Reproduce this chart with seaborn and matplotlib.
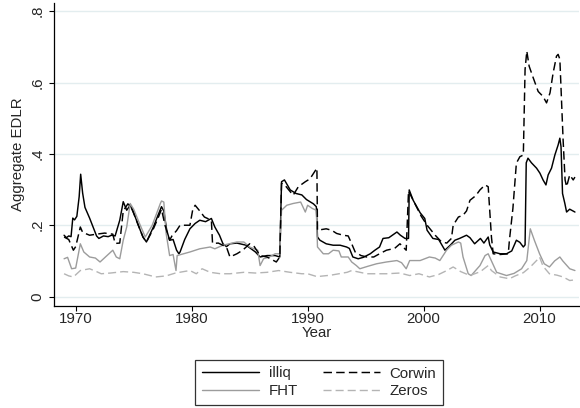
import matplotlib
matplotlib.use("Agg")
import matplotlib.pyplot as plt
import seaborn as sns
import pandas as pd

# ---------------- data ----------------
illiq_year = [1969.0, 1969.2, 1969.4, 1969.6, 1969.75, 1969.9, 1970.1, 1970.3, 1970.43, 1970.6,
              1970.8, 1971.0, 1971.2, 1971.5, 1971.8, 1972.0, 1972.4, 1972.8, 1973.1, 1973.4,
              1973.8, 1974.1, 1974.4, 1974.7, 1975.0, 1975.4, 1975.8, 1976.1, 1976.7, 1977.1,
              1977.4, 1977.6, 1977.85, 1978.1, 1978.4, 1978.7, 1978.9, 1979.0, 1979.4, 1979.85,
              1980.3, 1980.7, 1981.2, 1981.7, 1982.0, 1982.4, 1982.7, 1983.0, 1983.3, 1983.9,
              1984.7, 1985.5, 1985.9, 1986.5, 1987.2, 1987.6, 1987.75, 1988.0, 1988.5, 1989.0,
              1989.5, 1989.9, 1990.5, 1990.75, 1990.85, 1991.06, 1991.6, 1992.2, 1992.8, 1993.36,
              1993.6, 1993.9, 1994.36, 1994.8, 1995.4, 1995.8, 1996.2, 1996.5, 1997.0, 1997.7,
              1998.0, 1998.4, 1998.7, 1998.76, 1999.1, 1999.7, 2000.1, 2000.3, 2000.8, 2001.3,
              2001.84, 2002.3, 2002.7, 2003.1, 2003.7, 2004.0, 2004.4, 2004.9, 2005.2, 2005.57,
              2005.7, 2006.0, 2006.6, 2007.15, 2007.6, 2008.0, 2008.3, 2008.6, 2008.75, 2008.85,
              2009.0, 2009.3, 2009.74, 2010.03, 2010.3, 2010.55, 2010.74, 2011.03, 2011.32, 2011.6,
              2011.75, 2011.85, 2011.98, 2012.18, 2012.33, 2012.6, 2013.05]
illiq_val = [0.172, 0.165, 0.170, 0.168, 0.220, 0.215, 0.225, 0.280, 0.343, 0.290,
             0.250, 0.235, 0.220, 0.195, 0.170, 0.163, 0.170, 0.168, 0.172, 0.170,
             0.214, 0.266, 0.242, 0.256, 0.235, 0.200, 0.167, 0.153, 0.195, 0.228,
             0.252, 0.240, 0.186, 0.158, 0.160, 0.130, 0.120, 0.125, 0.160, 0.190,
             0.205, 0.214, 0.210, 0.219, 0.195, 0.172, 0.148, 0.140, 0.148, 0.150,
             0.144, 0.125, 0.111, 0.115, 0.115, 0.111, 0.322, 0.327, 0.299, 0.289,
             0.285, 0.272, 0.260, 0.252, 0.167, 0.158, 0.148, 0.144, 0.144, 0.139,
             0.135, 0.111, 0.106, 0.110, 0.120, 0.130, 0.139, 0.163, 0.165, 0.181,
             0.172, 0.163, 0.163, 0.299, 0.270, 0.235, 0.219, 0.186, 0.163, 0.160,
             0.130, 0.144, 0.158, 0.163, 0.172, 0.165, 0.148, 0.163, 0.150, 0.167,
             0.145, 0.125, 0.120, 0.120, 0.128, 0.158, 0.152, 0.139, 0.145, 0.375,
             0.388, 0.375, 0.360, 0.346, 0.327, 0.313, 0.341, 0.360, 0.397, 0.425,
             0.444, 0.420, 0.289, 0.261, 0.237, 0.245, 0.237]

corwin_year = [1969.0, 1969.4, 1969.8, 1970.0, 1970.4, 1970.6, 1971.2, 1971.8, 1972.5, 1973.2,
               1973.4, 1973.8, 1974.1, 1974.5, 1974.8, 1975.4, 1975.8, 1976.1, 1976.7, 1977.1,
               1977.4, 1977.7, 1978.1, 1978.3, 1978.7, 1979.0, 1979.5, 1979.85, 1980.1, 1980.3,
               1980.7, 1981.1, 1981.7, 1981.8, 1982.3, 1983.0, 1983.3, 1983.9, 1984.4, 1985.0,
               1985.4, 1985.9, 1986.5, 1987.3, 1987.6, 1987.75, 1988.1, 1988.75, 1989.2, 1989.8,
               1990.2, 1990.7, 1990.8, 1990.85, 1991.6, 1992.07, 1992.5, 1993.07, 1993.5, 1993.8,
               1994.1, 1994.6, 1995.1, 1995.7, 1996.2, 1996.8, 1997.5, 1997.96, 1998.2, 1998.5,
               1998.7, 1999.1, 1999.8, 2000.3, 2001.0, 2001.55, 2002.0, 2002.4, 2002.55, 2003.0,
               2003.4, 2003.7, 2004.0, 2004.5, 2004.86, 2005.3, 2005.57, 2005.85, 2006.0, 2006.6,
               2007.3, 2007.4, 2007.7, 2008.0, 2008.3, 2008.6, 2008.75, 2008.9, 2009.1, 2009.4,
               2009.88, 2010.3, 2010.6, 2010.9, 2011.17, 2011.46, 2011.6, 2011.75, 2012.03, 2012.2,
               2012.33, 2012.6, 2012.9, 2013.05]
corwin_val = [0.167, 0.160, 0.130, 0.140, 0.195, 0.180, 0.172, 0.175, 0.178, 0.175,
              0.149, 0.150, 0.240, 0.260, 0.250, 0.200, 0.167, 0.153, 0.190, 0.220,
              0.245, 0.200, 0.158, 0.170, 0.185, 0.200, 0.200, 0.200, 0.245, 0.256,
              0.240, 0.223, 0.214, 0.149, 0.150, 0.139, 0.111, 0.120, 0.130, 0.148,
              0.140, 0.115, 0.111, 0.097, 0.111, 0.318, 0.310, 0.284, 0.308, 0.322,
              0.330, 0.355, 0.360, 0.186, 0.190, 0.186, 0.177, 0.172, 0.170, 0.148,
              0.125, 0.115, 0.111, 0.111, 0.120, 0.130, 0.135, 0.148, 0.140, 0.130,
              0.296, 0.270, 0.225, 0.200, 0.172, 0.153, 0.150, 0.163, 0.200, 0.223,
              0.228, 0.240, 0.270, 0.283, 0.299, 0.313, 0.308, 0.167, 0.120, 0.118,
              0.120, 0.158, 0.247, 0.374, 0.392, 0.397, 0.637, 0.688, 0.646, 0.618,
              0.575, 0.561, 0.543, 0.571, 0.627, 0.674, 0.679, 0.665, 0.439, 0.327,
              0.308, 0.341, 0.327, 0.335]

fht_year = [1969.0, 1969.3, 1969.65, 1970.0, 1970.4, 1970.7, 1971.2, 1971.7, 1972.1, 1972.7,
            1973.2, 1973.5, 1973.8, 1974.1, 1974.4, 1974.7, 1975.0, 1975.5, 1976.0, 1976.6,
            1977.3, 1977.4, 1977.6, 1977.8, 1978.1, 1978.4, 1978.65, 1978.75, 1979.3, 1979.85,
            1980.7, 1981.6, 1982.0, 1982.7, 1983.9, 1984.5, 1985.0, 1985.7, 1985.9, 1986.2,
            1986.7, 1987.2, 1987.6, 1987.75, 1988.2, 1988.75, 1989.4, 1989.8, 1990.0, 1990.4,
            1990.75, 1990.85, 1991.35, 1991.8, 1992.2, 1992.7, 1992.9, 1993.5, 1993.8, 1994.2,
            1994.5, 1995.2, 1995.95, 1996.8, 1997.7, 1998.1, 1998.5, 1998.8, 1999.7, 2000.5,
            2001.0, 2001.4, 2001.98, 2002.4, 2003.0, 2003.2, 2003.4, 2003.85, 2004.1, 2004.4,
            2004.86, 2005.3, 2005.57, 2005.85, 2006.3, 2007.15, 2007.8, 2008.45, 2008.9, 2009.2,
            2009.55, 2010.0, 2010.4, 2010.85, 2011.3, 2011.75, 2012.0, 2012.6, 2013.05]
fht_val = [0.106, 0.110, 0.078, 0.080, 0.148, 0.125, 0.111, 0.108, 0.097, 0.115,
           0.130, 0.111, 0.106, 0.158, 0.195, 0.261, 0.245, 0.205, 0.167, 0.200,
           0.261, 0.268, 0.265, 0.177, 0.115, 0.118, 0.073, 0.115, 0.120, 0.125,
           0.134, 0.139, 0.134, 0.144, 0.153, 0.153, 0.139, 0.130, 0.087, 0.106,
           0.111, 0.120, 0.120, 0.242, 0.256, 0.261, 0.265, 0.237, 0.256, 0.247,
           0.242, 0.139, 0.120, 0.120, 0.130, 0.128, 0.111, 0.111, 0.097, 0.087,
           0.078, 0.085, 0.092, 0.097, 0.101, 0.095, 0.078, 0.101, 0.101, 0.111,
           0.108, 0.101, 0.130, 0.144, 0.153, 0.150, 0.111, 0.064, 0.059, 0.070,
           0.087, 0.115, 0.120, 0.100, 0.068, 0.059, 0.065, 0.078, 0.101, 0.190,
           0.158, 0.120, 0.092, 0.083, 0.100, 0.111, 0.100, 0.078, 0.073]

zeros_year = [1969.0, 1969.4, 1969.8, 1970.4, 1971.2, 1971.8, 1972.2, 1973.0, 1974.1, 1975.0,
              1975.8, 1976.9, 1977.8, 1978.6, 1979.3, 1979.85, 1980.4, 1980.9, 1981.6, 1982.5,
              1983.3, 1984.5, 1985.5, 1986.5, 1987.5, 1988.5, 1989.5, 1990.0, 1990.8, 1992.0,
              1993.4, 1993.8, 1995.1, 1996.8, 1997.96, 1998.8, 1999.6, 2000.5, 2001.3, 2002.0,
              2002.55, 2003.2, 2004.0, 2004.9, 2005.57, 2005.85, 2006.6, 2007.4, 2007.9, 2008.6,
              2009.2, 2009.74, 2010.0, 2010.3, 2010.85, 2011.5, 2012.03, 2012.6, 2013.05]
zeros_val = [0.064, 0.058, 0.055, 0.073, 0.078, 0.070, 0.064, 0.066, 0.070, 0.068,
             0.064, 0.055, 0.058, 0.066, 0.070, 0.073, 0.064, 0.078, 0.068, 0.064,
             0.064, 0.068, 0.066, 0.068, 0.073, 0.068, 0.064, 0.064, 0.056, 0.060,
             0.068, 0.073, 0.064, 0.064, 0.066, 0.059, 0.064, 0.055, 0.062, 0.073,
             0.083, 0.070, 0.059, 0.070, 0.087, 0.073, 0.055, 0.050, 0.058, 0.067,
             0.083, 0.101, 0.111, 0.085, 0.064, 0.060, 0.055, 0.045, 0.047]

x_ticks = [1970, 1980, 1990, 2000, 2010]
y_ticks = [0, 0.2, 0.4, 0.6, 0.8]
y_tick_labels = ["0", ".2", ".4", ".6", ".8"]
x_title = "Year"
y_title = "Aggregate EDLR"

# ---------------- styling ----------------
sns.set_theme(style="white")
plt.rcParams["font.family"] = ["Liberation Sans", "DejaVu Sans"]
FS = 10.8

fig = plt.figure(figsize=(5.8, 4.08), dpi=100)
W, H = 580.0, 408.0
ax = fig.add_axes([54 / W, 1 - 305.5 / H, (579 - 54) / W, (305.5 - 3) / H])

for yv in y_ticks:
    ax.axhline(yv, color="#e3edef", lw=1.0, zorder=0)

series = [
    ("illiq", illiq_year, illiq_val, "black", None, 1.05),
    ("FHT", fht_year, fht_val, "#9c9c9c", None, 1.0),
    ("Corwin", corwin_year, corwin_val, "black", (5.8, 2.9), 1.05),
    ("Zeros", zeros_year, zeros_val, "#b4b4b4", (5.8, 2.9), 1.0),
]
handles = {}
for name, xs, ys, col, dash, lw in series:
    df = pd.DataFrame({"Year": xs, "v": ys})
    sns.lineplot(data=df, x="Year", y="v", ax=ax, color=col, lw=lw,
                 estimator=None, sort=True, label=name)
    line = ax.get_lines()[-1]
    if dash is not None:
        line.set_dashes(dash)
    handles[name] = line
if ax.get_legend() is not None:
    ax.get_legend().remove()

ax.set_xlim(1968.13, 2013.4)
ax.set_ylim(-0.025, 0.823)
ax.set_xticks(x_ticks)
ax.set_xticklabels([str(t) for t in x_ticks])
ax.set_yticks(y_ticks)
ax.set_yticklabels(y_tick_labels)

for s in ["top", "right"]:
    ax.spines[s].set_visible(False)
for s in ["left", "bottom"]:
    ax.spines[s].set_color("black")
    ax.spines[s].set_linewidth(0.9)

ax.tick_params(axis="both", which="major", direction="out", length=3.6, width=0.8,
               color="black", labelsize=FS, left=True, bottom=True)
ax.tick_params(axis="x", pad=1.4)
ax.tick_params(axis="y", pad=3.0, labelrotation=90)
for lab in ax.get_yticklabels():
    lab.set_verticalalignment("center")

ax.set_xlabel(x_title, fontsize=FS, labelpad=0)
ax.set_ylabel(y_title, fontsize=FS)
ax.yaxis.set_label_coords((25.5 - 54) / 525.0, 0.5)

order = ["illiq", "FHT", "Corwin", "Zeros"]
leg = fig.legend([handles[n] for n in order], order, ncol=2, loc="lower center",
                 bbox_to_anchor=(319.2 / W, 3 / H), borderaxespad=0, frameon=True,
                 fancybox=False, fontsize=FS, handlelength=3.8, handletextpad=0.67,
                 columnspacing=1.63, labelspacing=0.25, borderpad=0.45)
leg.get_frame().set_edgecolor("black")
leg.get_frame().set_linewidth(0.9)

fig.savefig("out.png", dpi=100, facecolor="white")
